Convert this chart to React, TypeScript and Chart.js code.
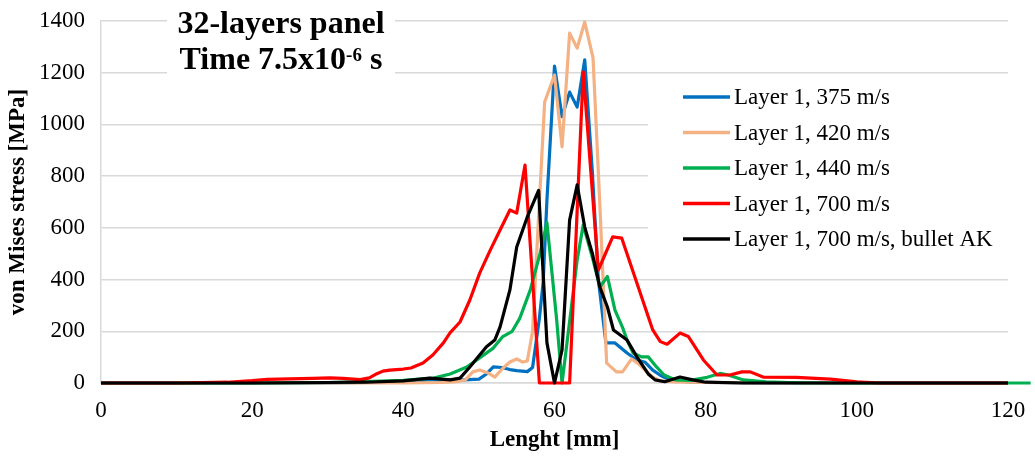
import React, { useEffect, useRef } from "react";
import { Chart, registerables } from "chart.js";

Chart.register(...registerables);

const SERIF = "'Liberation Serif', 'Times New Roman', serif";

// ---- data (x in mm, y in MPa) ----
const blueX = [0, 10, 20, 30, 35, 40, 43.5, 46, 48, 50, 51, 51.9, 53, 54.1, 55, 56.4, 57.1, 58, 58.5, 59, 60, 61, 62, 63, 64, 65, 65.8, 66.8, 68, 69.6, 70.9, 72, 73, 74, 75, 76, 78, 80, 85, 90, 100, 120];
const blueY = [0, 0, 0, 0, 2, 5, 12, 12, 12, 15, 35, 62, 60, 52, 48, 44, 60, 250, 390, 708, 1226, 1030, 1125, 1067, 1250, 820, 400, 155, 155, 116, 89, 80, 50, 30, 15, 8, 4, 2, 1, 0, 0, 0];

const orangeX = [0, 20, 40, 45, 47, 48.2, 49.2, 50.1, 51.2, 52.1, 53.2, 54.1, 55, 55.8, 56.4, 57.1, 58.7, 60, 61, 62, 63, 64, 65.1, 66, 66.9, 68.2, 69, 70.2, 71, 72, 73, 74, 76, 80, 90, 120];
const orangeY = [0, 0, 0, 2, 5, 12, 43, 50, 39, 23, 58, 81, 93, 81, 85, 200, 1087, 1191, 913, 1353, 1295, 1396, 1257, 690, 77, 43, 43, 93, 77, 50, 23, 8, 4, 2, 0, 0];

const greenX = [0, 20, 30, 35, 40, 44, 46.2, 48.4, 50.1, 51.9, 53.1, 54.4, 55.4, 56.8, 58.1, 59, 60.3, 61, 63, 63.8, 65.1, 66, 67, 68, 69, 69.6, 70.4, 71.5, 72.4, 73.5, 74.5, 76, 78, 80.2, 81.9, 83, 85, 88, 92, 100, 110, 123];
const greenY = [0, 0, 2, 5, 10, 19, 35, 62, 97, 135, 178, 200, 250, 360, 502, 620, 240, 0, 476, 611, 476, 371, 412, 282, 215, 166, 116, 101, 101, 62, 31, 12, 10, 22, 37, 31, 12, 4, 1, 0, 0, 0];

const redX = [0, 10, 16.7, 20, 22, 25, 28, 30.3, 32, 34.3, 35.5, 36.5, 37.3, 38.2, 40, 41, 42.6, 43.9, 45.3, 46.2, 47.5, 48.8, 50.1, 51.5, 52.8, 54.1, 55, 56.1, 58, 62, 63.8, 65.8, 67.7, 68.9, 73, 74, 74.9, 76.6, 77.7, 79.7, 81.5, 83.2, 84.8, 85.9, 87.6, 92, 96.5, 100, 103, 110, 120];
const redY = [0, 0, 3, 9, 14, 16, 18, 20, 18, 13, 20, 36, 46, 50, 54, 58, 77, 108, 155, 195, 236, 321, 425, 514, 592, 669, 657, 843, 0, 0, 1203, 437, 565, 560, 205, 160, 150, 193, 180, 89, 31, 31, 43, 43, 23, 22, 15, 4, 0, 0, 0];

const blackX = [0, 20, 30, 35, 40, 43.5, 46.2, 47.5, 48.8, 50.1, 51, 52.1, 52.8, 54.1, 55, 56.4, 57.9, 59, 60, 61, 62, 63, 64, 65, 66, 67, 67.8, 69.6, 70.9, 72.4, 73.3, 74.6, 76.6, 78.3, 80, 85, 120];
const blackY = [0, 0, 2, 3, 8, 19, 12, 19, 62, 108, 140, 166, 217, 360, 526, 642, 745, 155, 0, 128, 630, 766, 603, 502, 371, 294, 205, 166, 101, 35, 12, 5, 23, 12, 3, 0, 0];

const seriesNames = [
  "Layer 1, 375 m/s",
  "Layer 1, 420 m/s",
  "Layer 1, 440 m/s",
  "Layer 1, 700 m/s",
  "Layer 1, 700 m/s, bullet AK",
];
const seriesColors = ["#0070C0", "#F4B183", "#00B050", "#FF0000", "#000000"];

const xTickValues = [0, 20, 40, 60, 80, 100, 120];
const yTickValues = [0, 200, 400, 600, 800, 1000, 1200, 1400];

const titleLine1 = "32-layers panel";
const titleMain = "Time 7.5x10";
const titleSup = "-6";
const titleTail = " s";
const xAxisTitle = "Lenght [mm]";
const yAxisTitle = "von Mises stress [MPa]";

function toPoints(xs: number[], ys: number[]) {
  return xs.map((x, i) => ({ x, y: ys[i] }));
}

const overlayPlugin = {
  id: "overlay",
  afterDraw(chart: any) {
    const ctx: CanvasRenderingContext2D = chart.ctx;
    ctx.save();
    // title panel
    ctx.fillStyle = "#ffffff";
    ctx.fillRect(167, 0, 228, 82);
    ctx.fillStyle = "#000000";
    ctx.textBaseline = "alphabetic";
    ctx.textAlign = "left";
    const cx = 281;
    ctx.font = `bold 32px ${SERIF}`;
    const w1 = ctx.measureText(titleLine1).width;
    ctx.fillText(titleLine1, cx - w1 / 2, 33);
    const wa = ctx.measureText(titleMain).width;
    const wc = ctx.measureText(titleTail).width;
    ctx.font = `bold 19px ${SERIF}`;
    const wb = ctx.measureText(titleSup).width;
    let x = cx - (wa + wb + wc) / 2;
    ctx.font = `bold 32px ${SERIF}`;
    ctx.fillText(titleMain, x, 69);
    x += wa;
    ctx.font = `bold 19px ${SERIF}`;
    ctx.fillText(titleSup, x, 61);
    x += wb;
    ctx.font = `bold 32px ${SERIF}`;
    ctx.fillText(titleTail, x, 69);

    // legend
    ctx.fillStyle = "#ffffff";
    ctx.fillRect(648, 80, 387, 175);
    chart.data.datasets.forEach((ds: any, i: number) => {
      const y = 97 + i * 35.5;
      ctx.strokeStyle = ds.borderColor;
      ctx.lineWidth = 3.5;
      ctx.lineCap = "butt";
      ctx.beginPath();
      ctx.moveTo(683, y);
      ctx.lineTo(730, y);
      ctx.stroke();
      ctx.fillStyle = "#000000";
      ctx.font = `23px ${SERIF}`;
      ctx.textBaseline = "middle";
      ctx.fillText(ds.label, 734, y + 1);
    });
    ctx.restore();
  },
};

export default function App() {
  const canvasRef = useRef<HTMLCanvasElement | null>(null);

  useEffect(() => {
    const canvas = canvasRef.current;
    if (!canvas) return;
    const seriesX = [blueX, orangeX, greenX, redX, blackX];
    const seriesY = [blueY, orangeY, greenY, redY, blackY];
    const datasets = seriesNames.map((name, i) => ({
      label: name,
      data: toPoints(seriesX[i], seriesY[i]),
      borderColor: seriesColors[i],
      backgroundColor: seriesColors[i],
      borderWidth: 3.2,
      pointRadius: 0,
      fill: false,
      tension: 0,
      borderJoinStyle: "round" as const,
      borderCapStyle: "butt" as const,
      order: seriesNames.length - i,
      clip: i === 2 ? (false as any) : 2,
    }));

    const chart = new Chart(canvas, {
      type: "line",
      data: { datasets },
      options: {
        animation: false,
        responsive: false,
        devicePixelRatio: 1,
        layout: { padding: { left: 0, right: 27, top: 21, bottom: 0 } },
        plugins: {
          legend: { display: false },
          tooltip: { enabled: false },
          title: { display: false },
        },
        scales: {
          x: {
            type: "linear",
            min: 0,
            max: 120,
            afterFit: (s: any) => {
              s.height = 76;
              s.paddingLeft = 0;
              s.paddingRight = 0;
            },
            afterBuildTicks: (s: any) => {
              s.ticks = xTickValues.map((v) => ({ value: v }));
            },
            grid: { display: false, drawTicks: false },
            border: { display: true, color: "#D9D9D9", width: 1.5 },
            ticks: {
              padding: 14,
              color: "#000000",
              maxRotation: 0,
              autoSkip: false,
              font: { family: SERIF, size: 23 },
              callback: (v: any) => String(v),
            },
            title: {
              display: true,
              text: xAxisTitle,
              color: "#000000",
              font: { family: SERIF, size: 23, weight: "bold" },
              padding: { top: 0, bottom: 5 },
            },
          },
          y: {
            type: "linear",
            min: 0,
            max: 1400,
            afterFit: (s: any) => {
              s.width = 101;
              s.paddingTop = 0;
              s.paddingBottom = 0;
            },
            afterBuildTicks: (s: any) => {
              s.ticks = yTickValues.map((v) => ({ value: v }));
            },
            grid: { color: "#D9D9D9", lineWidth: 1.5, drawTicks: false },
            border: { display: true, color: "#D9D9D9", width: 1.5 },
            ticks: {
              padding: 16,
              color: "#000000",
              font: { family: SERIF, size: 23 },
              callback: (v: any) => String(v),
            },
            title: {
              display: true,
              text: yAxisTitle,
              color: "#000000",
              font: { family: SERIF, size: 23, weight: "bold" },
              padding: { top: 4, bottom: 0 },
            },
          },
        },
      },
      plugins: [overlayPlugin],
    });

    return () => {
      chart.destroy();
    };
  }, []);

  return (
    <div
      style={{
        position: "absolute",
        left: 0,
        top: 0,
        width: 1035,
        height: 459,
        background: "#ffffff",
      }}
    >
      <canvas ref={canvasRef} width={1035} height={459} style={{ display: "block" }} />
    </div>
  );
}
